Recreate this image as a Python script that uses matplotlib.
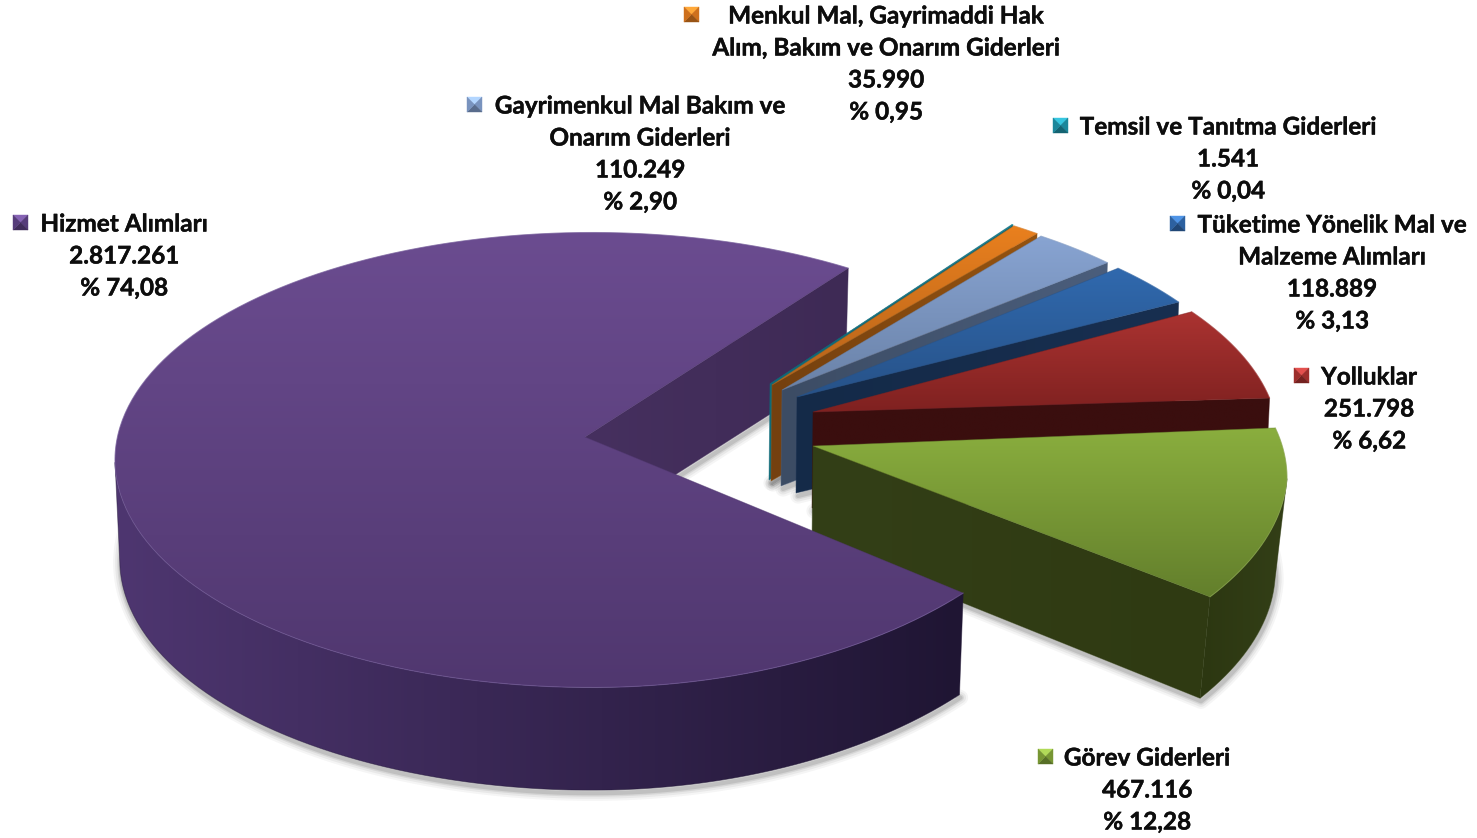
import numpy as np
import matplotlib
matplotlib.use("Agg")
import matplotlib.pyplot as plt
import matplotlib.patheffects as pe
from matplotlib.colors import LinearSegmentedColormap
from matplotlib.path import Path
from matplotlib.patches import PathPatch, Polygon

plt.rcParams['font.family'] = ['Lato', 'DejaVu Sans']

# chart data, counter clockwise from the big slice
names = ["Hizmet Alımları", "Görev Giderleri", "Yolluklar",
         "Tüketime Yönelik Mal ve\nMalzeme Alımları",
         "Gayrimenkul Mal Bakım ve\nOnarım Giderleri",
         "Menkul Mal, Gayrimaddi Hak\nAlım, Bakım ve Onarım Giderleri",
         "Temsil ve Tanıtma Giderleri"]
values = [2817261, 467116, 251798, 118889, 110249, 35990, 1541]
percents = ["74,08", "12,28", "6,62", "3,13", "2,90", "0,95", "0,04"]

# look of each slice: ellipse centre, apex, first rim angle
centers = [(592, 460), (810, 478), (802, 443), (787, 432), (769, 423), (752, 416), (751, 415)]
apexes = [(585, 437), (813, 446), (813, 412), (797, 397), (782, 390), (772, 385), (770, 384)]
rim_start = [57.5, -31.5, 11.4, 34.8, 44.8, 53.3, 56.7]
front_pinch = [33, 15, 0, 0, 0, 0, 0]
bottom_scale = [0.99, 0.975, 0.99, 0.99, 0.99, 0.99, 0.99]
top_colors = [("#6b4c90", "#50376f"), ("#8aae3e", "#637f2c"), ("#ab3331", "#7f2120"),
              ("#3069ae", "#275288"), ("#88a4d2", "#6a82a8"), ("#ea801e", "#b5631a"),
              ("#178da0", "#0f6a7a")]
wall_colors = [("#46305f", "#3e2a55"), ("#333f17", "#2f3a12"), ("#3a0e0e", "#3a0e0e"),
               ("#142a48", "#182f50"), ("#3c4c64", "#4b5e7c"), ("#74400f", "#95530f"),
               ("#0e6a78", "#0e6a78")]
rim_wall_colors = [("#4e3670", "#1f1533"), ("#2c3711", "#333f17")]
rim_light = ["#8a70b5", "#9dbb5a", "#b8504e", "#4a80c0", "#a0b8dd", "#f09a45", "#30a0b0"]
marker_colors = ["#5b3f80", "#7d9e36", "#a5302e", "#2f66a8", "#7f9bc8", "#d9761d", "#1c8ea3"]

# label lines: x centre, first line y, marker left/top
label_pos = [(124, 224, 13, 215), (1147, 758, 1038, 749), (1369, 377, 1294, 368),
             (1332, 225, 1170, 216), (640, 106, 467, 97), (886, 16, 684, 7), (1228, 127, 1053, 118)]

RX, RY = 477, 227.5
DEPTH = 100
BOTTOM_RY = 1.012
LINE_H = 32


def hex_cmap(c1, c2):
    return LinearSegmentedColormap.from_list("g", [c1, c2])


def grad_fill(ax, pts, c1, c2, horizontal=False, zorder=2):
    # gradient image clipped to a polygon
    pts = np.asarray(pts)
    x0, x1 = pts[:, 0].min(), pts[:, 0].max()
    y0, y1 = pts[:, 1].min(), pts[:, 1].max()
    g = np.linspace(0, 1, 256)
    g = g.reshape(1, -1) if horizontal else g.reshape(-1, 1)
    im = ax.imshow(g, cmap=hex_cmap(c1, c2), extent=(x0, x1, y1, y0), aspect="auto",
                   origin="upper", zorder=zorder, interpolation="bilinear")
    closed = np.vstack([pts, pts[0]])
    patch = PathPatch(Path(closed), transform=ax.transData, fc="none", ec="none")
    ax.add_patch(patch)
    im.set_clip_path(patch)
    # thin edge in the same colour so the clip is not jagged
    ax.add_patch(Polygon(pts, closed=True, fc="none", ec=c2, lw=0.6, alpha=0.5, zorder=zorder))


def rim_x(i, t):
    c, s = np.cos(t), np.sin(t)
    # the front right part of each slice sits a little closer in
    pinch = np.where((c > 0) & (s < 0), front_pinch[i] * np.abs(s), 0.0)
    return (RX - pinch) * c


def rim(i, t):
    return np.column_stack([centers[i][0] + rim_x(i, t), centers[i][1] - RY * np.sin(t)])


def rim_low(i, t):
    return np.column_stack([centers[i][0] + rim_x(i, t) * bottom_scale[i],
                            centers[i][1] + DEPTH - RY * BOTTOM_RY * np.sin(t)])


fig = plt.figure(figsize=(14.77, 8.38), dpi=100)
ax = fig.add_axes([0, 0, 1, 1])

total = sum(values)
sweeps = [v / total * 360 for v in values]
slices = []
for i in range(len(values)):
    t = np.radians(np.linspace(rim_start[i], rim_start[i] + sweeps[i], 300))
    slices.append(t)

# soft shadow round the lower edges
for i in range(len(values)):
    t = slices[i]
    apex = np.array(apexes[i], dtype=float)
    low = np.vstack([apex + (0, DEPTH - 4), rim_low(i, t)])
    for lw, a in [(11, 0.05), (8, 0.07), (5, 0.10), (3, 0.14)]:
        ax.add_patch(Polygon(low + (1, 3), closed=True, fc="none", ec="#404040", lw=lw,
                             alpha=a, joinstyle="round", zorder=1))


def draw_side(i, z):
    t = slices[i]
    apex = np.array(apexes[i], dtype=float)
    # flat cut face at the first rim angle
    p_top = rim(i, t[:1])[0]
    p_low = rim_low(i, t[:1])[0]
    grad_fill(ax, [apex, p_top, p_low, apex + (-1, DEPTH - 4)], wall_colors[i][0], wall_colors[i][1],
              horizontal=True, zorder=z)


def draw_front(i, z, cols):
    t = slices[i]
    front = t[np.sin(t) <= 0.0]
    if len(front) < 2:
        return
    up = rim(i, front)
    low = rim_low(i, front)[::-1]
    grad_fill(ax, np.vstack([up, low]), cols[0], cols[1], horizontal=True, zorder=z)


def draw_top(i, z):
    t = slices[i]
    edge = rim(i, t)
    pts = np.vstack([apexes[i], edge])
    grad_fill(ax, pts, top_colors[i][0], top_colors[i][1], zorder=z)
    ax.plot(edge[:, 0], edge[:, 1], color=rim_light[i], lw=0.8, alpha=0.4, zorder=z)


# back part of the big slice goes behind the small ones
draw_side(0, 2)
z = 3
for i in [6, 5, 4, 3, 2, 1]:
    draw_side(i, z)
    if i == 1:
        draw_front(i, z, rim_wall_colors[1])
    draw_top(i, z + 1)
    z += 2
draw_front(0, z, rim_wall_colors[0])
draw_top(0, z + 1)

# labels with their small bevelled squares
for i in range(len(values)):
    xc, y, mx, my = label_pos[i]
    lines = names[i].split("\n") + [f"{values[i]:,}".replace(",", "."), "% " + percents[i]]
    for k, line in enumerate(lines):
        ax.text(xc, y + k * LINE_H, line, ha="center", va="center", fontsize=17.5,
                fontweight="bold", color="#0d0d0d", zorder=30,
                path_effects=[pe.withStroke(linewidth=0.3, foreground="#0d0d0d")])
    s = 15
    c = np.array(matplotlib.colors.to_rgb(marker_colors[i]))
    mid = (mx + s / 2, my + s / 2)
    corners = [(mx, my), (mx + s, my), (mx + s, my + s), (mx, my + s)]
    shades = [np.clip(c * 1.25 + 0.08, 0, 1), c * 0.95, c * 0.7, c * 0.95]
    for j in range(4):
        ax.add_patch(Polygon([corners[j], corners[(j + 1) % 4], mid], closed=True,
                             fc=shades[j], ec=shades[j], lw=0.3, zorder=30))

ax.set_xlim(0, 1477)
ax.set_ylim(838, 0)
ax.axis("off")
fig.savefig("out.png", dpi=100, facecolor="white")
